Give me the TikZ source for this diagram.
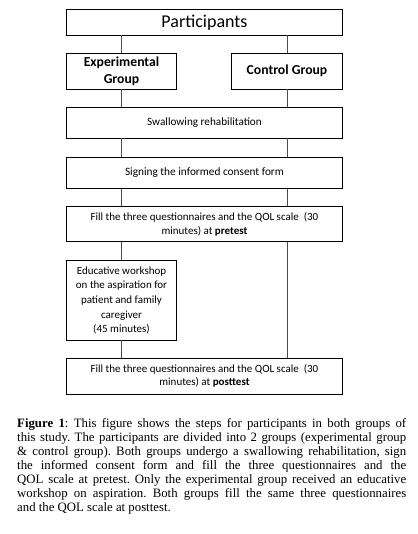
\documentclass[tikz,border=0pt]{standalone}
\usepackage{fontspec}
\setmainfont{Liberation Serif}
\newfontfamily\boxfont{Carlito}
\frenchspacing
\begin{document}
\begin{tikzpicture}[x=1pt,y=1pt,
  box/.style={draw=black, line width=0.9pt, rectangle, inner sep=1pt, align=center, font=\boxfont},
  conn/.style={draw=black!70, line width=0.8pt}]
\useasboundingbox (0,0) rectangle (417,-534);
\node[box, minimum width=276pt, minimum height=25.5pt, font=\boxfont\fontsize{18}{20}\selectfont] (part) at (204.5,-22.25) {Participants};
\node[box, minimum width=110pt, minimum height=36pt, font=\boxfont\bfseries\fontsize{13.7}{16.7}\selectfont] (exp) at (121.5,-71) {Experimental\\Group};
\node[box, minimum width=111pt, minimum height=36pt, font=\boxfont\bfseries\fontsize{13.7}{16.7}\selectfont] (ctrl) at (287,-71) {Control Group};
\node[box, minimum width=276pt, minimum height=31pt, font=\boxfont\fontsize{11.2}{13}\selectfont] (swal) at (204.5,-122.5) {Swallowing rehabilitation};
\node[box, minimum width=276pt, minimum height=31pt, font=\boxfont\fontsize{11.3}{13}\selectfont] (sign) at (204.5,-172.8) {Signing the informed consent form};
\node[box, minimum width=276pt, minimum height=35pt, font=\boxfont\fontsize{11}{13.3}\selectfont] (pre) at (204.5,-224.2) {Fill the three questionnaires and the QOL scale~ (30\\minutes) at \textbf{pretest}};
\node[box, minimum width=110pt, minimum height=79.3pt, font=\boxfont\fontsize{11}{14.7}\selectfont] (edu) at (121.5,-300.35) {Educative workshop\\on the aspiration for\\patient and family\\caregiver\\(45 minutes)};
\node[box, minimum width=276pt, minimum height=35.7pt, font=\boxfont\fontsize{11}{13.3}\selectfont] (post) at (204.5,-376.15) {Fill the three questionnaires and the QOL scale~ (30\\minutes) at \textbf{posttest}};
\draw[conn] (part.south -| exp.north) -- (exp.north);
\draw[conn] (part.south -| ctrl.north) -- (ctrl.north);
\draw[conn] (exp.south) -- (swal.north -| exp.south);
\draw[conn] (ctrl.south) -- (swal.north -| ctrl.south);
\draw[conn] (swal.south -| exp.south) -- (sign.north -| exp.south);
\draw[conn] (swal.south -| ctrl.south) -- (sign.north -| ctrl.south);
\draw[conn] (sign.south -| exp.south) -- (pre.north -| exp.south);
\draw[conn] (sign.south -| ctrl.south) -- (pre.north -| ctrl.south);
\draw[conn] (pre.south -| edu.north) -- (edu.north);
\draw[conn] (edu.south) -- (post.north -| edu.south);
\draw[conn] (pre.south -| ctrl.south) -- (post.north -| ctrl.south);
\node[anchor=north west, inner sep=0pt, text width=389pt, align=justify, font=\fontsize{12.8}{14}\selectfont] (cap) at (17,-418.5) {\textbf{Figure 1}: This figure shows the steps for participants in both groups of\linebreak this study. The participants are divided into 2 groups (experimental group\linebreak \& control group). Both groups undergo a swallowing rehabilitation, sign\linebreak the informed consent form and fill the three questionnaires and the\linebreak QOL scale at pretest. Only the experimental group received an educative\linebreak workshop on aspiration. Both groups fill the same three questionnaires\linebreak and the QOL scale at posttest.};
\end{tikzpicture}
\end{document}
